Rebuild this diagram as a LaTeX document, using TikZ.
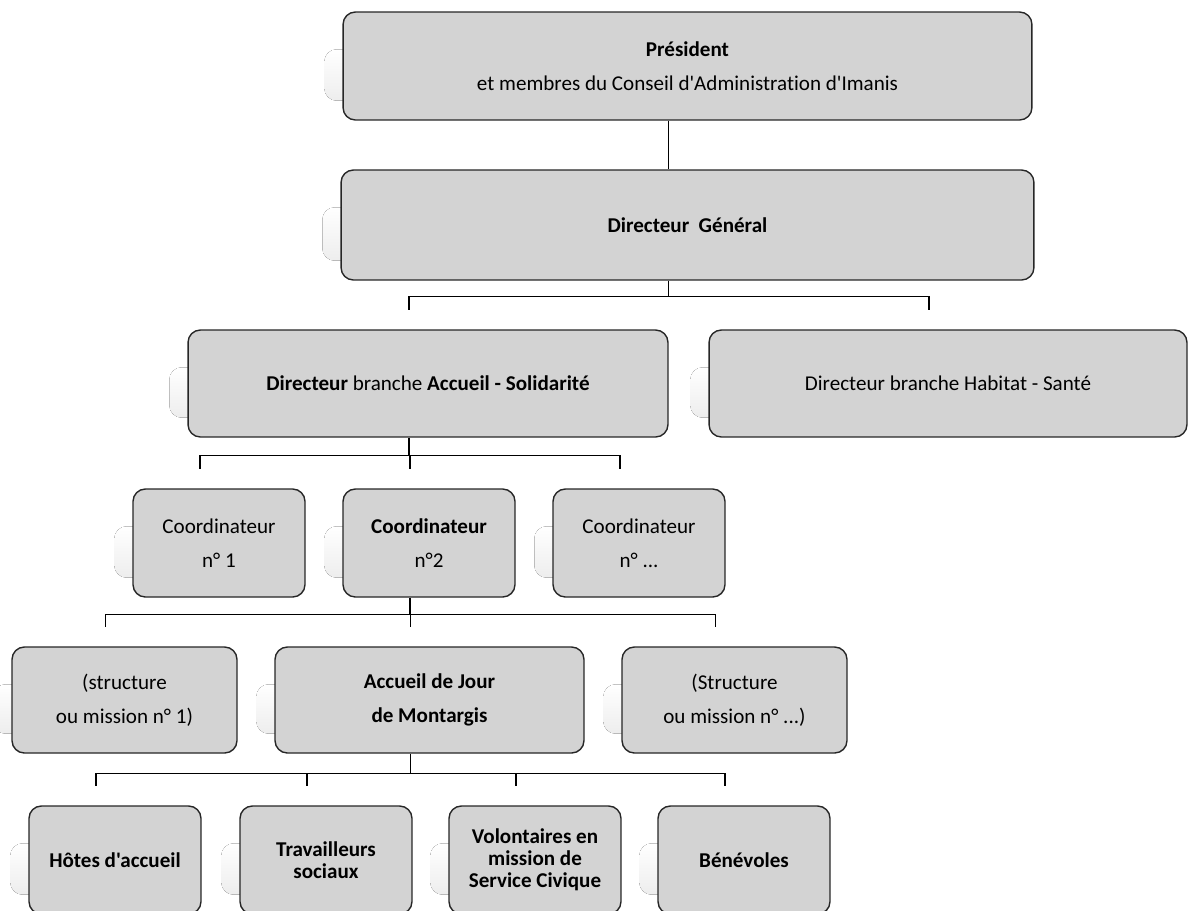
\documentclass[tikz,border=0pt]{standalone}
\usepackage{fontspec}
\setmainfont{Carlito}[Ligatures={NoCommon,TeXOff}]
\usepackage{xcolor}
\usetikzlibrary{calc,backgrounds}

\definecolor{gris}{RGB}{211,211,211}

\tikzset{
  boite/.style={draw=black!85, line width=0.8pt, fill=gris, rounded corners=7pt,
    align=center, inner sep=0pt, font=\fontsize{12}{19.3}\selectfont},
  boitebas/.style={boite, minimum width=3.44cm, minimum height=2.16cm,
    font=\fontsize{12}{12.4}\selectfont\bfseries},
  reflet/.style={rounded corners=7pt, top color=white, bottom color=black!7},
  trait/.style={line width=0.6pt}
}

\begin{document}
\begin{tikzpicture}[x=0.02cm,y=-0.02cm]
    \useasboundingbox (0,0) rectangle (1190,910);
    % niveau 1 et 2
    \node[boite, minimum width=13.78cm, minimum height=2.16cm] (pres) at (687.5,66)
      {\textbf{Président}\\ et membres du Conseil d'Administration d'Imanis};
    \node[boite, minimum width=13.86cm, minimum height=2.2cm] (dg) at (687.5,225)
      {\textbf{Directeur\ \ Général}};
    % branches
    \node[boite, minimum width=9.6cm, minimum height=2.14cm] (dirA) at (428,383.5)
      {\textbf{Directeur} branche \textbf{Accueil - Solidarité}};
    \node[boite, minimum width=9.56cm, minimum height=2.14cm] (dirH) at (948,383.5)
      {Directeur branche Habitat - Santé};
    % coordinateurs
    \node[boite, minimum width=3.44cm, minimum height=2.16cm] (co1) at (219,543)
      {Coordinateur\\ n° 1};
    \node[boite, minimum width=3.44cm, minimum height=2.16cm] (co2) at (429,543)
      {\textbf{Coordinateur}\\ n°2};
    \node[boite, minimum width=3.44cm, minimum height=2.16cm] (co3) at (639,543)
      {Coordinateur\\ n° ...};
    % structures
    \node[boite, minimum width=4.5cm, minimum height=2.12cm] (st1) at (124.5,700)
      {(structure\\ ou mission n° 1)};
    \node[boite, minimum width=6.18cm, minimum height=2.12cm] (mont) at (429.5,700)
      {\textbf{Accueil de Jour}\\ \textbf{de Montargis}};
    \node[boite, minimum width=4.5cm, minimum height=2.12cm] (st3) at (734.5,700)
      {(Structure\\ ou mission n° ...)};
    % equipe
    \node[boitebas] (hote) at (115,860) {Hôtes d'accueil};
    \node[boitebas] (trav) at (326,860) {Travailleurs\\ sociaux};
    \node[boitebas] (volo) at (535,860) {Volontaires en\\ mission de\\ Service Civique};
    \node[boitebas] (bene) at (744,860) {Bénévoles};

    \begin{scope}[on background layer]
    \foreach \n in {pres,dg,dirA,dirH,co1,co2,co3,st1,mont,st3,hote,trav,volo,bene}
      \fill[reflet] ($(\n.north west)+(-18,38)$) rectangle ($(\n.south east)+(-18,-20)$);
    \end{scope}

    % liaisons
    \draw[trait] ([xshift=-0.38cm]pres.south) -- ([xshift=-0.38cm]dg.north);
    \draw[trait] ([xshift=-0.38cm]dg.south) -- ++(0,16) coordinate (b1);
    \foreach \n in {dirA,dirH}
      \draw[trait] (b1) -| ([xshift=-0.38cm,yshift=0.38cm]\n.north);
    \draw[trait] ([xshift=-0.38cm]dirA.south) -- ++(0,18) coordinate (b2);
    \foreach \n in {co1,co2,co3}
      \draw[trait] (b2) -| ([xshift=-0.38cm,yshift=0.38cm]\n.north);
    \draw[trait] ([xshift=-0.38cm]co2.south) -- ++(0,17) coordinate (b3);
    \foreach \n in {st1,mont,st3}
      \draw[trait] (b3) -| ([xshift=-0.38cm,yshift=0.38cm]\n.north);
    \draw[trait] ([xshift=-0.38cm]mont.south) -- ++(0,20) coordinate (b4);
    \foreach \n in {hote,trav,volo,bene}
      \draw[trait] (b4) -| ([xshift=-0.38cm,yshift=0.38cm]\n.north);
\end{tikzpicture}
\end{document}
